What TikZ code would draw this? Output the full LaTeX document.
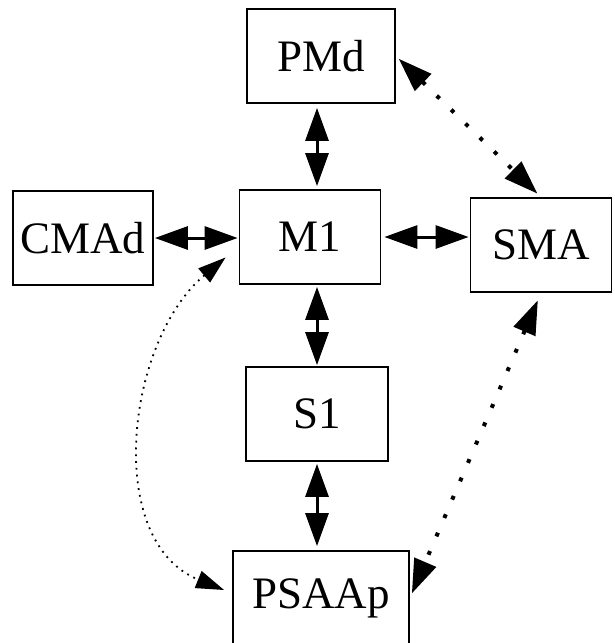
\documentclass[tikz,border=0pt]{standalone}
\usepackage{fontspec}
\setmainfont{Liberation Serif}
\usetikzlibrary{arrows.meta}

\begin{document}
\begin{tikzpicture}[x=1pt, y=1pt,
  area/.style={draw, line width=1.8pt, minimum width=#1, minimum height=94pt, inner sep=0pt, font=\fontsize{45}{50}\selectfont},
  link/.style={{Triangle[length=33pt,width=23pt]}-{Triangle[length=33pt,width=23pt]}, line width=3pt},
  weak/.style={{Triangle[length=34pt,width=23pt]}-{Triangle[length=34pt,width=23pt]}, line width=4pt, dash pattern=on 4pt off 16pt},
  faint/.style={{Triangle[length=28pt,width=18pt]}-{Triangle[length=28pt,width=18pt]}, line width=1.8pt, dash pattern=on 1.8pt off 5pt}]
  \useasboundingbox (0,0) rectangle (615,-643);
  % areas
  \node[area=148pt] (PMd) at (321,-56) {PMd};
  \node[area=140pt] (CMAd) at (83,-238) {CMAd};
  \node[area=141pt] (M1) at (310,-237) {M1};
  \node[area=141pt] (SMA) at (541,-245) {SMA};
  \node[area=142pt] (S1) at (317,-414) {S1};
  \node[area=176pt] (PSAAp) at (321,-598) {PSAAp};
  % strong links
  \draw[link, shorten <=4pt, shorten >=3pt] (PMd.south -| S1) -- (M1.north -| S1);
  \draw[link, shorten <=1pt, shorten >=1pt] (CMAd.east) -- (M1.west |- CMAd.east);
  \draw[link, shorten <=3pt, shorten >=1pt] (M1.east) -- (SMA.west |- M1.east);
  \draw[link, shorten <=2pt, shorten >=1pt] (M1.south -| S1) -- (S1.north);
  \draw[link, shorten <=2pt, shorten >=4pt] (S1.south) -- (PSAAp.north -| S1);
  % weak links
  \draw[weak, shorten <=4pt, shorten >=5pt] (PMd.east) -- (SMA.north);
  \draw[weak, shorten <=8pt, shorten >=5pt] (SMA.south) -- (PSAAp.east);
  \draw[faint] ([xshift=-13pt]M1.196) to[out=220, in=158] ([shift={(-8pt,8pt)}]PSAAp.west);
\end{tikzpicture}
\end{document}
